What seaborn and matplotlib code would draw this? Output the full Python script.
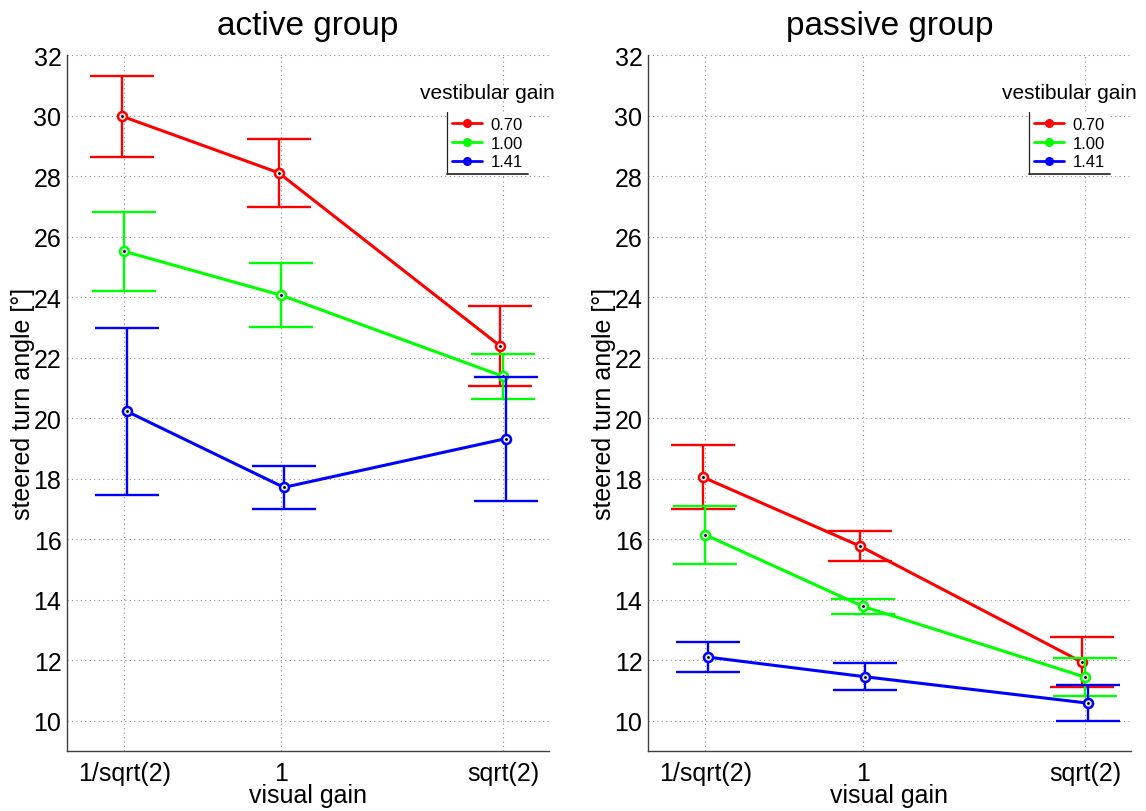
import numpy as np
import pandas as pd
import matplotlib
matplotlib.use("Agg")
import matplotlib.pyplot as plt
from matplotlib.lines import Line2D
import seaborn as sns

# visual gain conditions (x axis)
visual_gain = [1 / np.sqrt(2), 1.0, np.sqrt(2)]
visual_gain_labels = ["1/sqrt(2)", "1", "sqrt(2)"]

# vestibular gain conditions (one line each)
vestibular_gains = ["0.70", "1.00", "1.41"]
series_colors = ["#ff0000", "#00ff00", "#0000ff"]

# active group: mean steered turn angle and error half-widths
active_mean_070 = [29.98, 28.11, 22.38]
active_err_070 = [1.34, 1.12, 1.33]
active_mean_100 = [25.51, 24.06, 21.38]
active_err_100 = [1.31, 1.05, 0.75]
active_mean_141 = [20.22, 17.71, 19.32]
active_err_141 = [2.75, 0.72, 2.05]

# passive group
passive_mean_070 = [18.05, 15.77, 11.93]
passive_err_070 = [1.05, 0.50, 0.82]
passive_mean_100 = [16.14, 13.78, 11.44]
passive_err_100 = [0.96, 0.24, 0.63]
passive_mean_141 = [12.10, 11.45, 10.58]
passive_err_141 = [0.49, 0.44, 0.60]

# small horizontal shift between series so error bars do not overlap
series_dodge = [-0.005, 0.0, 0.005]

sns.set_style("white")
plt.rcParams["font.family"] = ["Liberation Sans", "DejaVu Sans"]
plt.rcParams.update({"text.color": "black", "axes.labelcolor": "black",
                     "xtick.color": "black", "ytick.color": "black"})


def build_frame(means, errs):
    rows = []
    for gain, shift, m, e in zip(vestibular_gains, series_dodge, means, errs):
        for xv, mv, ev in zip(visual_gain, m, e):
            rows.append(dict(visual=xv + shift, gain=gain, angle=mv, err=ev))
    return pd.DataFrame(rows)


active_df = build_frame([active_mean_070, active_mean_100, active_mean_141],
                        [active_err_070, active_err_100, active_err_141])
passive_df = build_frame([passive_mean_070, passive_mean_100, passive_mean_141],
                         [passive_err_070, passive_err_100, passive_err_141])

fig = plt.figure(figsize=(11.46, 8.12), dpi=100)
ax_left = fig.add_axes([0.0585, 0.074, 0.4205, 0.857])
ax_right = fig.add_axes([0.5654, 0.074, 0.4215, 0.857])

legends = []
for ax, df, title in [(ax_left, active_df, "active group"),
                      (ax_right, passive_df, "passive group")]:
    for z, (gain, color) in enumerate(zip(vestibular_gains, series_colors)):
        sub = df[df["gain"] == gain]
        ax.errorbar(sub["visual"], sub["angle"], yerr=sub["err"], fmt="none",
                    ecolor=color, elinewidth=1.7, capsize=23, capthick=1.7,
                    zorder=3 + z)
        sns.lineplot(data=sub, x="visual", y="angle", ax=ax, color=color,
                     lw=2.2, marker="o", ms=6.5, mfc="#e8e8e8", mec=color,
                     mew=1.8, estimator=None, sort=False, legend=False,
                     zorder=3 + z)
        ax.plot(sub["visual"], sub["angle"], ls="none", marker=".",
                color="black", ms=2, zorder=3.5 + z)

    ax.set_xlim(0.6, 1.5)
    ax.set_ylim(9, 32)
    ax.set_xticks(visual_gain, visual_gain_labels)
    ax.set_yticks(range(10, 33, 2))
    ax.grid(True, ls=(0, (1, 3)), color="#8c8c8c", lw=0.8)
    ax.set_axisbelow(True)
    for side in ["top", "right"]:
        ax.spines[side].set_visible(False)
    for side in ["left", "bottom"]:
        ax.spines[side].set_color("#404040")
        ax.spines[side].set_linewidth(1.0)
    ax.tick_params(axis="both", direction="in", length=5, width=1,
                   color="#404040", labelsize=18)
    ax.tick_params(axis="x", pad=7)
    ax.tick_params(axis="y", pad=4)
    ax.set_xlabel("visual gain", fontsize=18, labelpad=-1)
    ax.set_ylabel("steered turn angle [°]", fontsize=18, labelpad=-1)
    ax.set_title(title, fontsize=24, pad=15)

    handles = [Line2D([], [], color=c, lw=2, marker="o", ms=5.5, mfc=c, mec=c)
               for c in series_colors]
    leg = ax.legend(handles, vestibular_gains, loc="upper right",
                    bbox_to_anchor=(0.956, 0.918), borderaxespad=0,
                    frameon=True, fancybox=False, framealpha=1,
                    facecolor="white", edgecolor="none", fontsize=12,
                    handlelength=1.8, handletextpad=0.5, labelspacing=0.22,
                    borderpad=0.3)
    leg.set_zorder(10)
    legends.append(leg)

# legend frame drawn on the left and bottom only, with the title above it
fig.canvas.draw()
inv = fig.transFigure.inverted()
for leg in legends:
    bb = leg.get_window_extent().transformed(inv)
    fig.add_artist(Line2D([bb.x0, bb.x0], [bb.y0, bb.y1], color="#202020",
                          lw=0.9, transform=fig.transFigure, zorder=20))
    fig.add_artist(Line2D([bb.x0, bb.x1], [bb.y0, bb.y0], color="#303030",
                          lw=1.3, transform=fig.transFigure, zorder=20))
    fig.text((bb.x0 + bb.x1) / 2, bb.y1 + 0.012, "vestibular gain",
             ha="center", va="bottom", fontsize=15)

fig.savefig("out.png", dpi=100)
